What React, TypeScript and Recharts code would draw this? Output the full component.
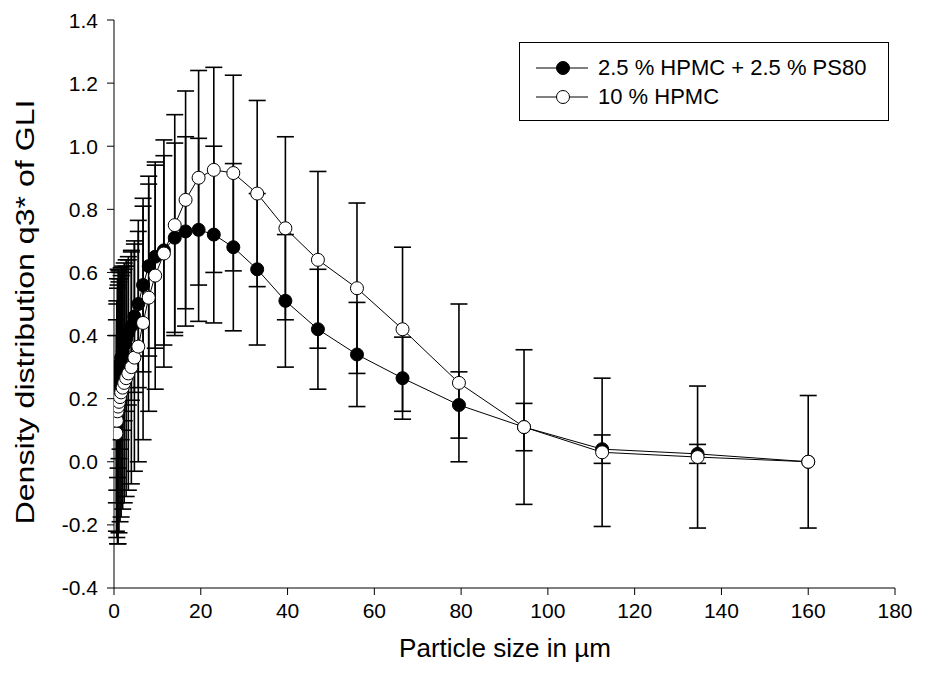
import { LineChart, Line, XAxis, YAxis, ErrorBar, Legend, Label } from "recharts";

// particle size classes (µm)
const sizes = [
  0.55, 0.65, 0.8, 0.95, 1.15, 1.4, 1.65, 2.0, 2.35, 2.8, 3.3, 4.0, 4.7, 5.6, 6.7, 8.0,
  9.5, 11.5, 14, 16.5, 19.5, 23, 27.5, 33, 39.5, 47, 56, 66.5, 79.5, 94.5, 112.5, 134.5, 160,
];

// 2.5 % HPMC + 2.5 % PS80 (filled)
const psMean = [
  0.16, 0.21, 0.25, 0.27, 0.29, 0.31, 0.33, 0.35, 0.37, 0.39, 0.41, 0.43, 0.46, 0.5, 0.56, 0.62,
  0.65, 0.67, 0.71, 0.73, 0.735, 0.72, 0.68, 0.61, 0.51, 0.42, 0.34, 0.265, 0.18, 0.11, 0.04, 0.025, 0.0,
];
const psErr = [
  0.29, 0.3, 0.3, 0.29, 0.28, 0.27, 0.26, 0.25, 0.24, 0.23, 0.23, 0.235, 0.24, 0.265, 0.275, 0.285,
  0.29, 0.3, 0.3, 0.3, 0.29, 0.28, 0.265, 0.24, 0.21, 0.19, 0.165, 0.13, 0.105, 0.075, 0.045, 0.03, 0.0,
];

// 10 % HPMC (open)
const hpmcMean = [
  0.09, 0.13, 0.16, 0.175, 0.19, 0.205, 0.22, 0.235, 0.25, 0.265, 0.28, 0.3, 0.33, 0.365, 0.44, 0.52,
  0.59, 0.66, 0.75, 0.83, 0.9, 0.925, 0.915, 0.85, 0.74, 0.64, 0.55, 0.42, 0.25, 0.11, 0.03, 0.015, 0.0,
];
const hpmcErr = [
  0.31, 0.37, 0.42, 0.435, 0.415, 0.395, 0.395, 0.385, 0.38, 0.375, 0.37, 0.37, 0.36, 0.365, 0.37, 0.36,
  0.36, 0.36, 0.35, 0.345, 0.34, 0.325, 0.31, 0.295, 0.29, 0.28, 0.27, 0.26, 0.25, 0.245, 0.235, 0.225, 0.21,
];

const xTicks = [0, 20, 40, 60, 80, 100, 120, 140, 160, 180];
const yTicks = [-0.4, -0.2, 0, 0.2, 0.4, 0.6, 0.8, 1.0, 1.2, 1.4];

const seriesNames = ["2.5 % HPMC + 2.5 % PS80", "10 % HPMC"];

const psData = sizes.map((x, i) => ({ x, y: psMean[i], err: psErr[i] }));
const hpmcData = sizes.map((x, i) => ({ x, y: hpmcMean[i], err: hpmcErr[i] }));

const FONT = '"Liberation Sans", Arial, sans-serif';

const LegendBox = () => (
  <div
    style={{
      border: "1px solid #000",
      background: "#fff",
      width: 370,
      height: 79,
      boxSizing: "border-box",
      paddingTop: 10,
      fontFamily: FONT,
      fontSize: 22,
      color: "#000",
    }}
  >
    {seriesNames.map((name, i) => (
      <div key={name} style={{ display: "flex", alignItems: "center", height: 29 }}>
        <svg width={80} height={20} style={{ marginLeft: 14 }}>
          <line x1={2} y1={10} x2={54} y2={10} stroke="#000" strokeWidth={1} />
          <circle cx={29} cy={10} r={6.5} fill={i === 0 ? "#000" : "#fff"} stroke="#000" strokeWidth={1} />
        </svg>
        <span style={{ marginLeft: -16 }}>{name}</span>
      </div>
    ))}
  </div>
);

export default function App() {
  return (
    <div style={{ width: 912, height: 667, fontFamily: FONT }}>
      <LineChart width={912} height={667} margin={{ top: 12, right: 25, bottom: 0, left: 0 }}>
        <XAxis
          type="number"
          dataKey="x"
          domain={[0, 180]}
          ticks={xTicks}
          allowDataOverflow
          height={87}
          axisLine={{ stroke: "#000" }}
          tickLine={{ stroke: "#000" }}
          tickSize={7}
          tickMargin={8}
          tick={{ fill: "#000", fontSize: 21, fontFamily: FONT }}
        >
          <Label
            content={() => (
              <text x={497} y={649} textAnchor="middle" fontSize={25} fontFamily={FONT} fill="#000"
                textLength={212} lengthAdjust="spacingAndGlyphs">
                Particle size in µm
              </text>
            )}
          />
        </XAxis>
        <YAxis
          type="number"
          domain={[-0.4, 1.4]}
          ticks={yTicks}
          allowDataOverflow
          width={106}
          axisLine={{ stroke: "#000" }}
          tickLine={{ stroke: "#000" }}
          tickSize={7}
          tickMargin={9}
          tickFormatter={(v: number) => v.toFixed(1)}
          tick={{ fill: "#000", fontSize: 21, fontFamily: FONT }}
        >
          <Label
            content={() => (
              <text
                x={17}
                y={304}
                transform="rotate(-90 17 304)"
                textAnchor="middle"
                dominantBaseline="central"
                fontSize={25}
                fontFamily={FONT}
                fill="#000"
                textLength={425}
                lengthAdjust="spacingAndGlyphs"
              >
                Density distribution q3* of GLI
              </text>
            )}
          />
        </YAxis>
        <Legend
          layout="vertical"
          align="center"
          verticalAlign="middle"
          content={<LegendBox />}
          wrapperStyle={{ position: "absolute", left: 511, top: 34, width: 372, height: 81 }}
        />
        <Line
          data={psData}
          dataKey="y"
          name={seriesNames[0]}
          stroke="#000"
          strokeWidth={1}
          dot={{ r: 6.5, fill: "#000", stroke: "#000", strokeWidth: 1 }}
          activeDot={false}
          isAnimationActive={false}
        >
          <ErrorBar dataKey="err" direction="y" width={8.5} stroke="#000" strokeWidth={1.6} />
        </Line>
        <Line
          data={hpmcData}
          dataKey="y"
          name={seriesNames[1]}
          stroke="#000"
          strokeWidth={1}
          dot={{ r: 6.5, fill: "#fff", stroke: "#000", strokeWidth: 1 }}
          activeDot={false}
          isAnimationActive={false}
        >
          <ErrorBar dataKey="err" direction="y" width={8.5} stroke="#000" strokeWidth={1.6} />
        </Line>
      </LineChart>
    </div>
  );
}
